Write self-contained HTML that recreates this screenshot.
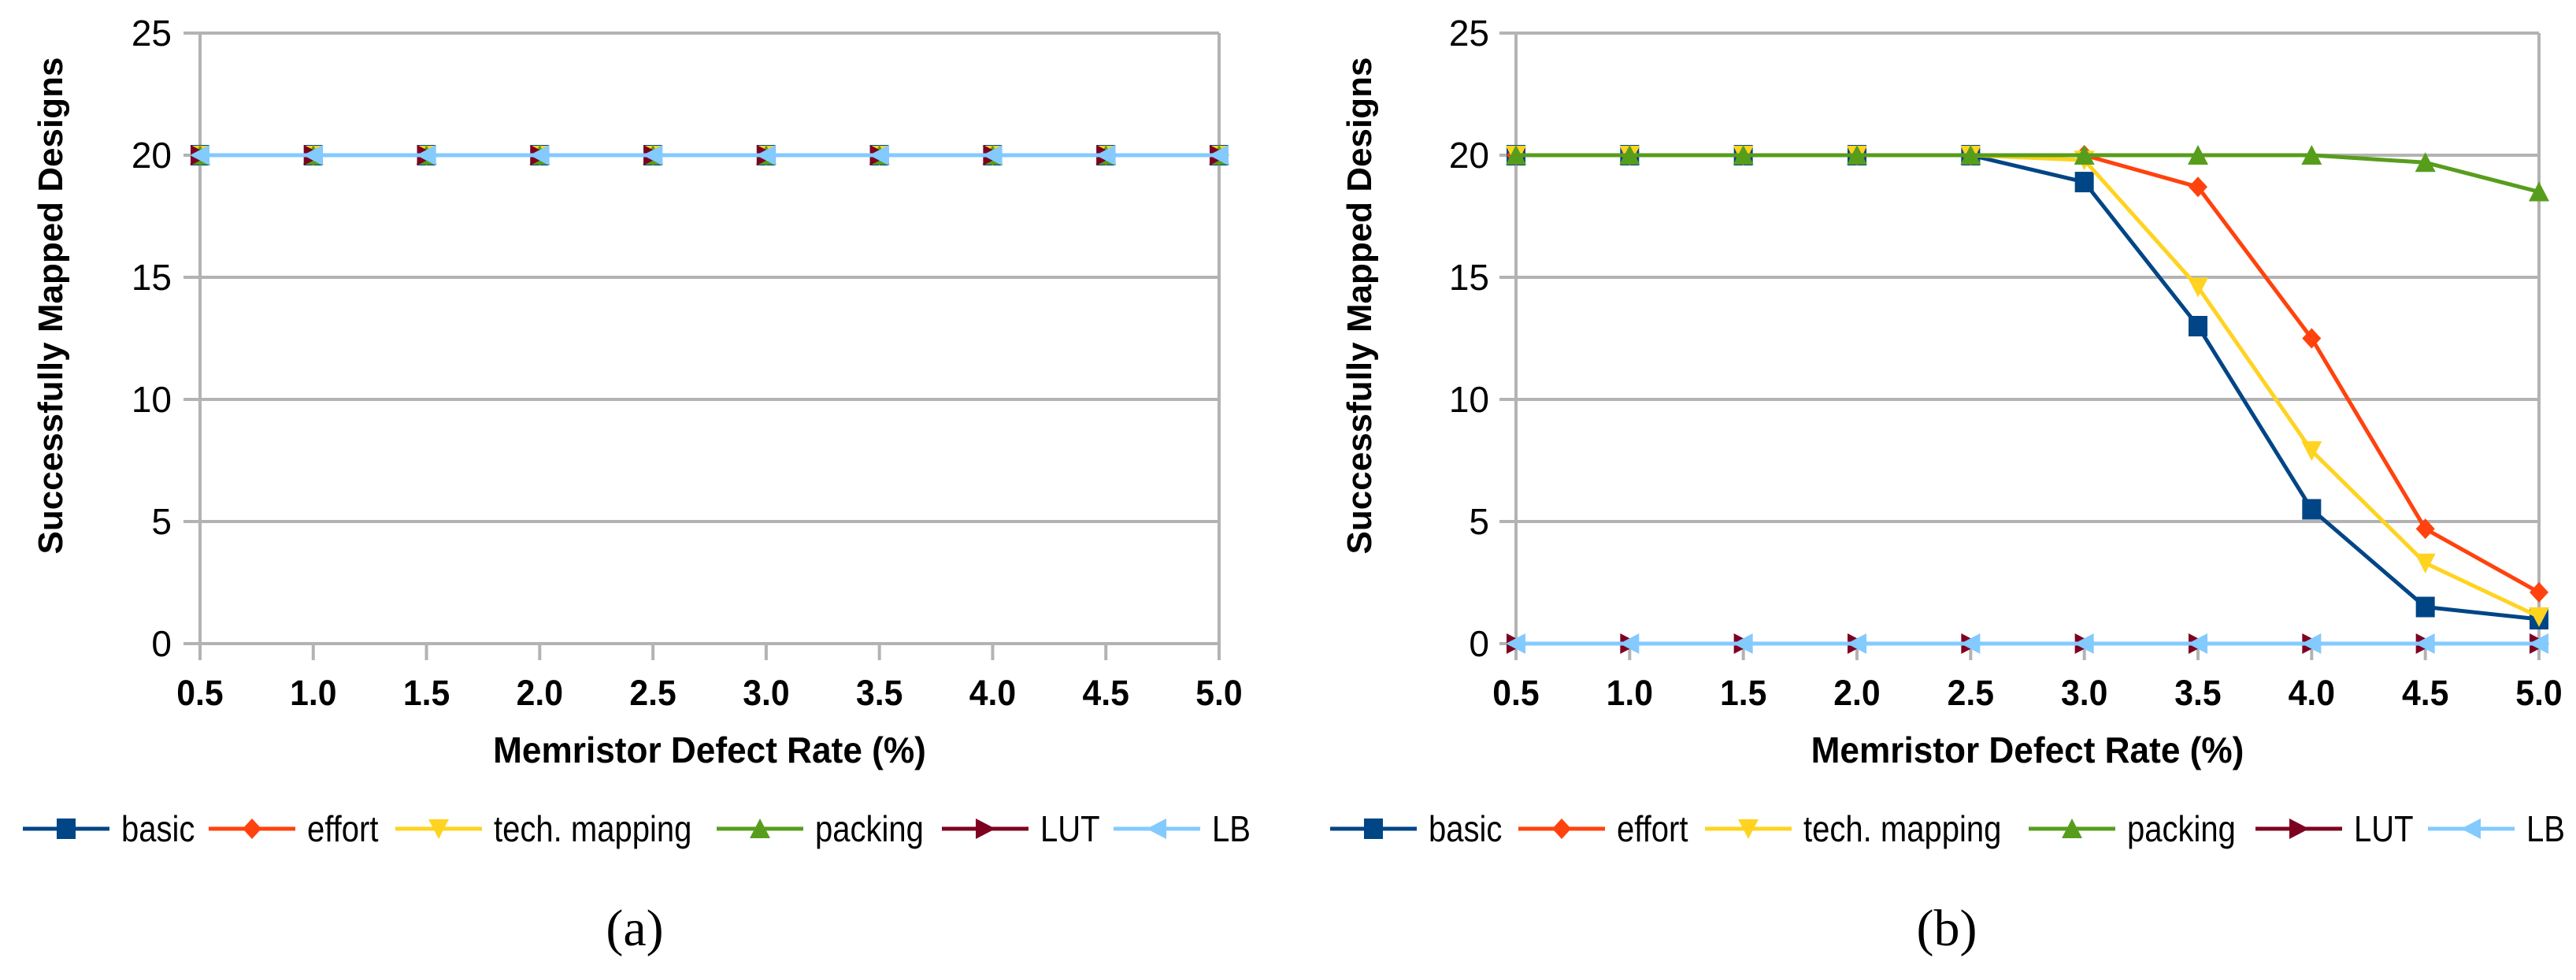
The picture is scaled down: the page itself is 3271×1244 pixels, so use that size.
<!DOCTYPE html>
<html><head><meta charset="utf-8"><style>
html,body{margin:0;padding:0;background:#fff;}
svg{display:block;}
.tick{font-family:"Liberation Sans Narrow","Liberation Sans",sans-serif;font-size:46px;fill:#000;}
.xt{font-family:"Liberation Sans Narrow","Liberation Sans",sans-serif;font-size:45px;font-weight:bold;fill:#000;}
.ttl{font-family:"Liberation Sans Narrow","Liberation Sans",sans-serif;font-size:46px;font-weight:bold;fill:#000;}
.yttl{font-family:"Liberation Sans",sans-serif;font-size:44px;font-weight:bold;fill:#000;}
.leg{font-family:"Liberation Sans Narrow","Liberation Sans",sans-serif;font-size:46px;fill:#000;}
.cap{font-family:"Liberation Serif",serif;font-size:66px;fill:#000;}
</style></head><body>
<svg id="fig" width="3271" height="1244" viewBox="0 0 3271 1244" xmlns="http://www.w3.org/2000/svg"></svg>
<script>
const categories = ["0.5","1.0","1.5","2.0","2.5","3.0","3.5","4.0","4.5","5.0"];
const yTicks = [0,5,10,15,20,25];
const seriesNames = ["basic","effort","tech. mapping","packing","LUT","LB"];
const seriesColors = ["#004586","#ff420e","#ffd320","#579d1c","#7e0021","#83caff"];
const seriesMarkers = ["square","diamond","down","up","right","left"];
const aBasic = [20,20,20,20,20,20,20,20,20,20];
const aEffort = [20,20,20,20,20,20,20,20,20,20];
const aTech = [20,20,20,20,20,20,20,20,20,20];
const aPacking = [20,20,20,20,20,20,20,20,20,20];
const aLUT = [20,20,20,20,20,20,20,20,20,20];
const aLB = [20,20,20,20,20,20,20,20,20,20];
const bBasic = [20,20,20,20,20,18.9,13,5.5,1.5,1.0];
const bEffort = [20,20,20,20,20,20,18.7,12.5,4.7,2.1];
const bTech = [20,20,20,20,20,19.8,14.6,7.9,3.3,1.1];
const bPacking = [20,20,20,20,20,20,20,20,19.7,18.5];
const bLUT = [0,0,0,0,0,0,0,0,0,0];
const bLB = [0,0,0,0,0,0,0,0,0,0];

const NS="http://www.w3.org/2000/svg";
const svg=document.getElementById('fig');
const narrowTexts=[];
function mk(tag,attrs,parent){const e=document.createElementNS(NS,tag);for(const k in attrs)e.setAttribute(k,attrs[k]);(parent||svg).appendChild(e);return e;}

function marker(g,type,cx,cy,color){
  let e;
  if(type==="square"){e=mk('rect',{x:cx-12,y:cy-13,width:24,height:26,fill:color},g);}
  else if(type==="diamond"){e=mk('polygon',{points:`${cx},${cy-13} ${cx+12},${cy} ${cx},${cy+13} ${cx-12},${cy}`,fill:color},g);}
  else if(type==="down"){e=mk('polygon',{points:`${cx-13},${cy-12} ${cx+13},${cy-12} ${cx},${cy+13}`,fill:color},g);}
  else if(type==="up"){e=mk('polygon',{points:`${cx-13},${cy+12} ${cx+13},${cy+12} ${cx},${cy-13}`,fill:color},g);}
  else if(type==="right"){e=mk('polygon',{points:`${cx-12},${cy-13} ${cx-12},${cy+13} ${cx+13},${cy}`,fill:color},g);}
  else {e=mk('polygon',{points:`${cx+12},${cy-13} ${cx+12},${cy+13} ${cx-13},${cy}`,fill:color},g);}
  return e;
}

function panel(id,left,right,top,bottom,ylabX,ytitleX,series,legX,capX,capText){
  const g=mk('g',{});
  
  
  const n=categories.length;
  const xs=i=>left+(right-left)*i/(n-1);
  const ys=v=>bottom-(bottom-top)*v/25;
  yTicks.forEach(t=>{
    const l=mk('line',{x1:left-21,x2:right,y1:ys(t),y2:ys(t),stroke:"#b3b3b3","stroke-width":4},g);
    
    
    const tx=mk('text',{x:ylabX,y:ys(t)+16,'text-anchor':'end',class:'tick'},g);
    tx.textContent=t;
    
    
  });
  categories.forEach((c,i)=>{
    const full=(i===0||i===n-1);
    const l=mk('line',{x1:xs(i),x2:xs(i),y1:full?top:bottom,y2:bottom+21,stroke:"#b3b3b3","stroke-width":4},g);
    
    
    const tx=mk('text',{x:xs(i),y:895,'text-anchor':'middle',class:'xt'},g);
    tx.textContent=c;
    
    
    narrowTexts.push([tx,0.95]);
  });
  const xt=mk('text',{x:(left+right)/2,y:968,'text-anchor':'middle',class:'ttl'},g);
  xt.textContent="Memristor Defect Rate (%)";
  
  
  narrowTexts.push([xt,0.96]);
  const yt=mk('text',{x:0,y:0,'text-anchor':'middle',class:'yttl',transform:`translate(${ytitleX+15},388) rotate(-90)`},g);
  yt.textContent="Successfully Mapped Designs";
  
  
  series.forEach((vals,si)=>{
    const sg=mk('g',{},g);
    
    
    const pts=vals.map((v,i)=>xs(i)+','+ys(v)).join(' ');
    const pl=mk('polyline',{points:pts,fill:'none',stroke:seriesColors[si],'stroke-width':5,'stroke-linejoin':'round'},sg);
    
    
    vals.forEach((v,i)=>{
      const m=marker(sg,seriesMarkers[si],xs(i),ys(v),seriesColors[si]);
      
      
    });
  });
  const lg=mk('g',{},g);
  
  
  seriesNames.forEach((nm,si)=>{
    const x0=legX[si];
    const eg=mk('g',{},lg);
    
    
    mk('line',{x1:x0,x2:x0+110,y1:1052,y2:1052,stroke:seriesColors[si],'stroke-width':5},eg);
    marker(eg,seriesMarkers[si],x0+55,1052,seriesColors[si]);
    const t=mk('text',{x:x0+125,y:1068,class:'leg'},eg);
    t.textContent=nm;
    narrowTexts.push([t,0.87]);
  });
  const cp=mk('text',{x:capX,y:1200,'text-anchor':'middle',class:'cap'},g);
  cp.textContent=capText;
  
  
}
panel('panel-a',254,1548,42,817,218,64,[aBasic,aEffort,aTech,aPacking,aLUT,aLB],[29,265,502,910,1196,1414],806,'(a)');
panel('panel-b',1925,3224,42,817,1891,1726,[bBasic,bEffort,bTech,bPacking,bLUT,bLB],[1689,1928,2165,2576,2864,3083],2472,'(b)');
narrowTexts.forEach(([t,f])=>{
  const w=t.getComputedTextLength();
  if(w>0){t.setAttribute('textLength',(w*f).toFixed(1));t.setAttribute('lengthAdjust','spacingAndGlyphs');}
});
</script>
</body></html>
